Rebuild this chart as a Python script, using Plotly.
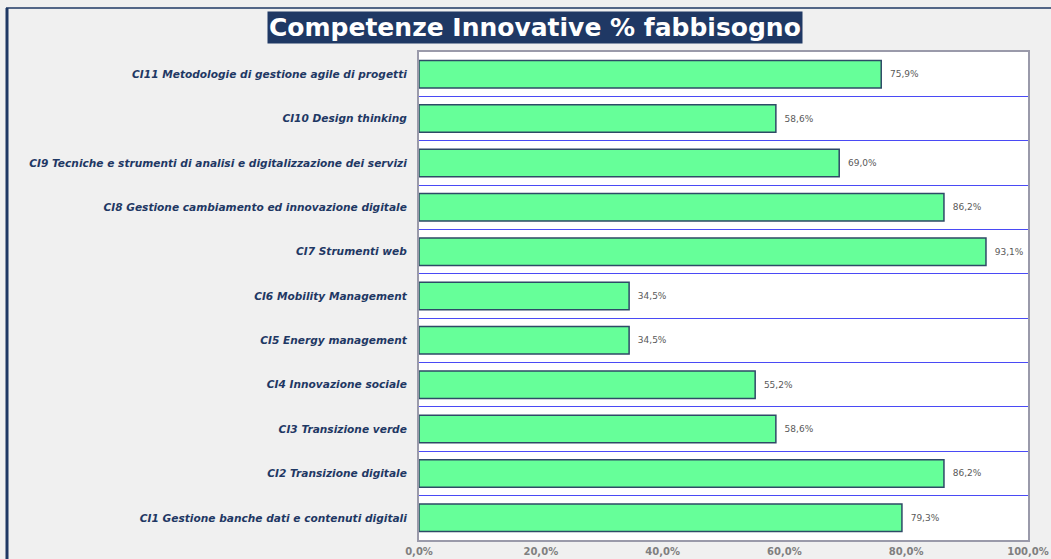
import plotly.graph_objects as go

# Competenze innovative e relativa percentuale di fabbisogno
categorie = [
    "CI1 Gestione banche dati e contenuti digitali",
    "CI2 Transizione digitale",
    "CI3 Transizione verde",
    "CI4 Innovazione sociale",
    "CI5 Energy management",
    "CI6 Mobility Management",
    "CI7 Strumenti web",
    "CI8 Gestione cambiamento ed innovazione digitale",
    "CI9 Tecniche e strumenti di analisi e digitalizzazione dei servizi",
    "CI10 Design thinking",
    "CI11 Metodologie di gestione agile di progetti",
]
fabbisogno = [79.3, 86.2, 58.6, 55.2, 34.5, 34.5, 93.1, 86.2, 69.0, 58.6, 75.9]
tick_valori = [0, 20, 40, 60, 80, 100]
tick_testi = [f"{v:.1f}%".replace(".", ",") for v in tick_valori]

NAVY = "#1f3864"
FONT = "DejaVu Sans, Verdana, sans-serif"
W, H = 1051, 559
L, R, T, B = 419, 23, 52, 19
PW, PH = W - L - R, H - T - B


def px_x(px):
    return (px - L) / PW


def px_y(py):
    return (H - B - py) / PH


fig = go.Figure()
fig.add_trace(go.Bar(
    x=fabbisogno,
    y=categorie,
    orientation="h",
    marker=dict(color="#66ff99", line=dict(color="#2e4a66", width=1.5)),
    texttemplate="  %{x:.1f}%",
    textposition="outside",
    textfont=dict(family=FONT, size=9, color="#595959"),
    cliponaxis=False,
    hoverinfo="skip",
))

fig.update_layout(
    width=W,
    height=H,
    margin=dict(l=L, r=R, t=T, b=B),
    paper_bgcolor="#f0f0f0",
    plot_bgcolor="#ffffff",
    separators=",.",
    bargap=0.38,
    showlegend=False,
    font=dict(family=FONT),
    xaxis=dict(
        range=[0, 100],
        tickvals=tick_valori,
        ticktext=tick_testi,
        automargin=False,
        showgrid=False,
        zeroline=False,
        showline=True,
        linecolor="#9a9aaa",
        linewidth=2,
        mirror=True,
        ticks="",
        ticklabelstandoff=1,
        tickfont=dict(family=FONT, size=10, color="#7f7f7f", weight="bold"),
    ),
    yaxis=dict(
        type="category",
        tickson="boundaries",
        automargin=False,
        showgrid=True,
        gridcolor="#4a4af5",
        gridwidth=1,
        showline=True,
        linecolor="#9a9aaa",
        linewidth=2,
        mirror=True,
        ticks="",
        ticklabelstandoff=8,
        tickfont=dict(family=FONT, size=10.6, color=NAVY, weight="bold", style="italic"),
    ),
)

# cornice esterna del grafico
fig.add_shape(type="line", xref="paper", yref="paper",
              x0=px_x(7), x1=px_x(7), y0=px_y(8), y1=px_y(575),
              line=dict(color=NAVY, width=3))
fig.add_shape(type="line", xref="paper", yref="paper",
              x0=px_x(6), x1=px_x(1060), y0=px_y(8), y1=px_y(8),
              line=dict(color=NAVY, width=1.5))

# titolo su fondo blu
fig.add_annotation(
    text="<b>Competenze Innovative % fabbisogno</b>",
    xref="paper", yref="paper",
    x=px_x(535), y=px_y(28),
    xanchor="center", yanchor="middle",
    showarrow=False,
    bgcolor=NAVY,
    borderpad=1,
    font=dict(family=FONT, size=25, color="#ffffff"),
)

fig.write_html("out.html")
